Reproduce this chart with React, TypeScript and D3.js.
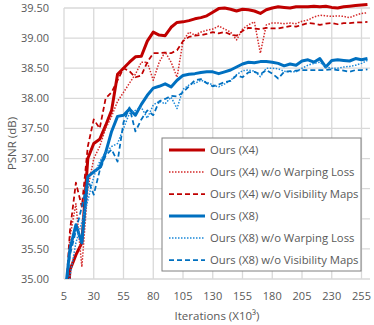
import React from "react";
import * as d3 from "d3";

const iterations = d3.range(5, 261, 5);

const oursX4 = [33.6, 35.15, 35.4, 35.6, 37.0, 37.25, 37.32, 37.55, 37.8, 38.4, 38.5, 38.6, 38.69, 38.7, 38.95, 39.1, 39.05, 39.04, 39.18, 39.26, 39.27, 39.29, 39.32, 39.34, 39.37, 39.43, 39.49, 39.5, 39.48, 39.45, 39.48, 39.47, 39.45, 39.41, 39.47, 39.5, 39.52, 39.51, 39.5, 39.52, 39.52, 39.52, 39.53, 39.52, 39.53, 39.51, 39.5, 39.52, 39.53, 39.54, 39.55, 39.56];
const x4NoWarp = [34.2, 35.7, 36.25, 35.2, 36.5, 37.0, 37.2, 37.5, 37.7, 37.95, 38.1, 38.25, 38.4, 38.6, 38.6, 38.3, 38.6, 38.77, 38.6, 38.35, 38.95, 39.1, 39.05, 39.1, 39.13, 39.15, 39.2, 39.15, 39.1, 38.97, 39.15, 39.22, 39.27, 38.75, 39.22, 39.25, 39.25, 39.24, 39.25, 39.24, 39.28, 39.3, 39.35, 39.38, 39.37, 39.36, 39.37, 39.36, 39.34, 39.38, 39.41, 39.42];
const x4NoVis = [34.3, 35.8, 36.6, 36.2, 37.2, 37.65, 37.5, 38.0, 38.1, 38.3, 38.5, 38.45, 38.35, 38.38, 38.6, 38.75, 38.75, 38.76, 38.75, 38.8, 38.95, 39.02, 39.04, 39.05, 39.07, 39.1, 39.08, 39.1, 39.06, 39.04, 39.12, 39.17, 39.16, 39.15, 39.17, 39.16, 39.16, 39.18, 39.2, 39.19, 39.22, 39.25, 39.24, 39.22, 39.24, 39.25, 39.23, 39.25, 39.25, 39.26, 39.26, 39.27];
const oursX8 = [34.6, 35.5, 35.9, 35.6, 36.7, 36.78, 36.85, 37.1, 37.45, 37.7, 37.72, 37.82, 37.72, 37.9, 38.05, 38.17, 38.2, 38.24, 38.19, 38.3, 38.38, 38.4, 38.41, 38.43, 38.44, 38.44, 38.41, 38.44, 38.47, 38.52, 38.57, 38.6, 38.59, 38.61, 38.61, 38.6, 38.58, 38.54, 38.57, 38.55, 38.62, 38.64, 38.6, 38.66, 38.52, 38.63, 38.64, 38.63, 38.62, 38.66, 38.64, 38.66];
const x8NoWarp = [33.9, 35.05, 35.6, 35.95, 36.3, 36.7, 36.95, 37.1, 37.2, 37.25, 37.5, 37.75, 37.8, 37.85, 37.67, 37.89, 37.95, 37.91, 38.02, 37.83, 38.15, 38.22, 38.25, 38.3, 38.27, 38.22, 38.19, 38.24, 38.3, 38.39, 38.46, 38.47, 38.45, 38.36, 38.5, 38.5, 38.49, 38.45, 38.44, 38.44, 38.5, 38.55, 38.58, 38.6, 38.52, 38.5, 38.5, 38.52, 38.53, 38.55, 38.58, 38.63];
const x8NoVis = [34.5, 35.4, 35.8, 36.2, 36.65, 36.4, 36.8, 37.05, 37.15, 36.95, 37.6, 37.85, 37.45, 37.65, 37.8, 37.72, 37.95, 37.99, 38.04, 38.03, 38.1, 38.2, 38.3, 38.32, 38.25, 38.2, 38.23, 38.27, 38.29, 38.38, 38.35, 38.43, 38.44, 38.4, 38.47, 38.41, 38.33, 38.44, 38.45, 38.46, 38.47, 38.47, 38.47, 38.47, 38.47, 38.48, 38.47, 38.46, 38.44, 38.47, 38.47, 38.48];

const yTicks = [35, 35.5, 36, 36.5, 37, 37.5, 38, 38.5, 39, 39.5];
const xTicks = [5, 30, 55, 80, 105, 130, 155, 180, 205, 230, 255];

const series = [
  { name: "Ours (X4)", values: oursX4, color: "#c00000", width: 3, dash: null },
  { name: "Ours (X4) w/o Warping Loss", values: x4NoWarp, color: "#d42a2a", width: 1.5, dash: "1.5,1.5" },
  { name: "Ours (X4) w/o Visibility Maps", values: x4NoVis, color: "#c00000", width: 1.75, dash: "5,3" },
  { name: "Ours (X8)", values: oursX8, color: "#0070c0", width: 3, dash: null },
  { name: "Ours (X8) w/o Warping Loss", values: x8NoWarp, color: "#1a88d8", width: 1.5, dash: "1.5,1.5" },
  { name: "Ours (X8) w/o Visibility Maps", values: x8NoVis, color: "#0070c0", width: 1.75, dash: "5,3" },
];

export default function App() {
  const W = 374, H = 325;
  const left = 64, right = 361.5, top = 8, bottom = 279;

  const x = d3.scaleLinear().domain([5, 255]).range([left, right]);
  const y = d3.scaleLinear().domain([35, 39.5]).range([bottom, top]);

  const line = d3.line<number>()
    .x((_, i) => x(iterations[i]))
    .y((d) => y(d));

  const font = "'Open Sans', 'Liberation Sans', sans-serif";
  const legendX = 162, legendY = 138;

  return (
    <svg width={W} height={H} style={{ position: "absolute", left: 0, top: 0 }} fontFamily={font}>
      <rect width={W} height={H} fill="#fff" />
      <defs>
        <clipPath id="plot-clip">
          <rect x={left} y={0} width={W - left} height={bottom} />
        </clipPath>
      </defs>

      {/* grid */}
      <g stroke="#d9d9d9" strokeWidth={1.3}>
        {yTicks.map((t) => (
          <line key={"h" + t} x1={left} x2={370} y1={y(t)} y2={y(t)} />
        ))}
        {xTicks.map((t) => (
          <line key={"v" + t} x1={x(t)} x2={x(t)} y1={top} y2={bottom} />
        ))}
      </g>

      {/* tick labels */}
      <g fill="#595959" fontSize={11}>
        {yTicks.map((t) => (
          <text key={"yl" + t} x={49} y={y(t)} dy="0.35em" textAnchor="end">{t.toFixed(2)}</text>
        ))}
        {xTicks.map((t) => (
          <text key={"xl" + t} x={x(t)} y={296} dy="0.35em" textAnchor="middle">{t}</text>
        ))}
      </g>
      <text transform={`translate(12,${(top + bottom) / 2}) rotate(-90)`} textAnchor="middle" dy="0.35em" fill="#595959" fontSize={11.5}>PSNR (dB)</text>
      <text x={(left + 370) / 2} y={316} dy="0.35em" textAnchor="middle" fill="#595959" fontSize={11.5}>Iterations (X10³)</text>

      {/* series */}
      <g clipPath="url(#plot-clip)" fill="none" strokeLinejoin="round">
        {series.map((s) => (
          <path key={s.name} d={line(s.values) || ""} stroke={s.color} strokeWidth={s.width} strokeDasharray={s.dash || undefined} />
        ))}
      </g>

      {/* legend */}
      <rect x={legendX} y={legendY} width={199} height={133} fill="#fff" stroke="#808080" strokeWidth={1} />
      {series.map((s, i) => {
        const ly = 150 + i * 22;
        return (
          <g key={"lg" + s.name}>
            <line x1={169} x2={205} y1={ly} y2={ly} stroke={s.color} strokeWidth={s.width} strokeDasharray={s.dash || undefined} />
            <text x={210} y={ly} dy="0.35em" fill="#595959" fontSize={11.3}>{s.name}</text>
          </g>
        );
      })}
    </svg>
  );
}
